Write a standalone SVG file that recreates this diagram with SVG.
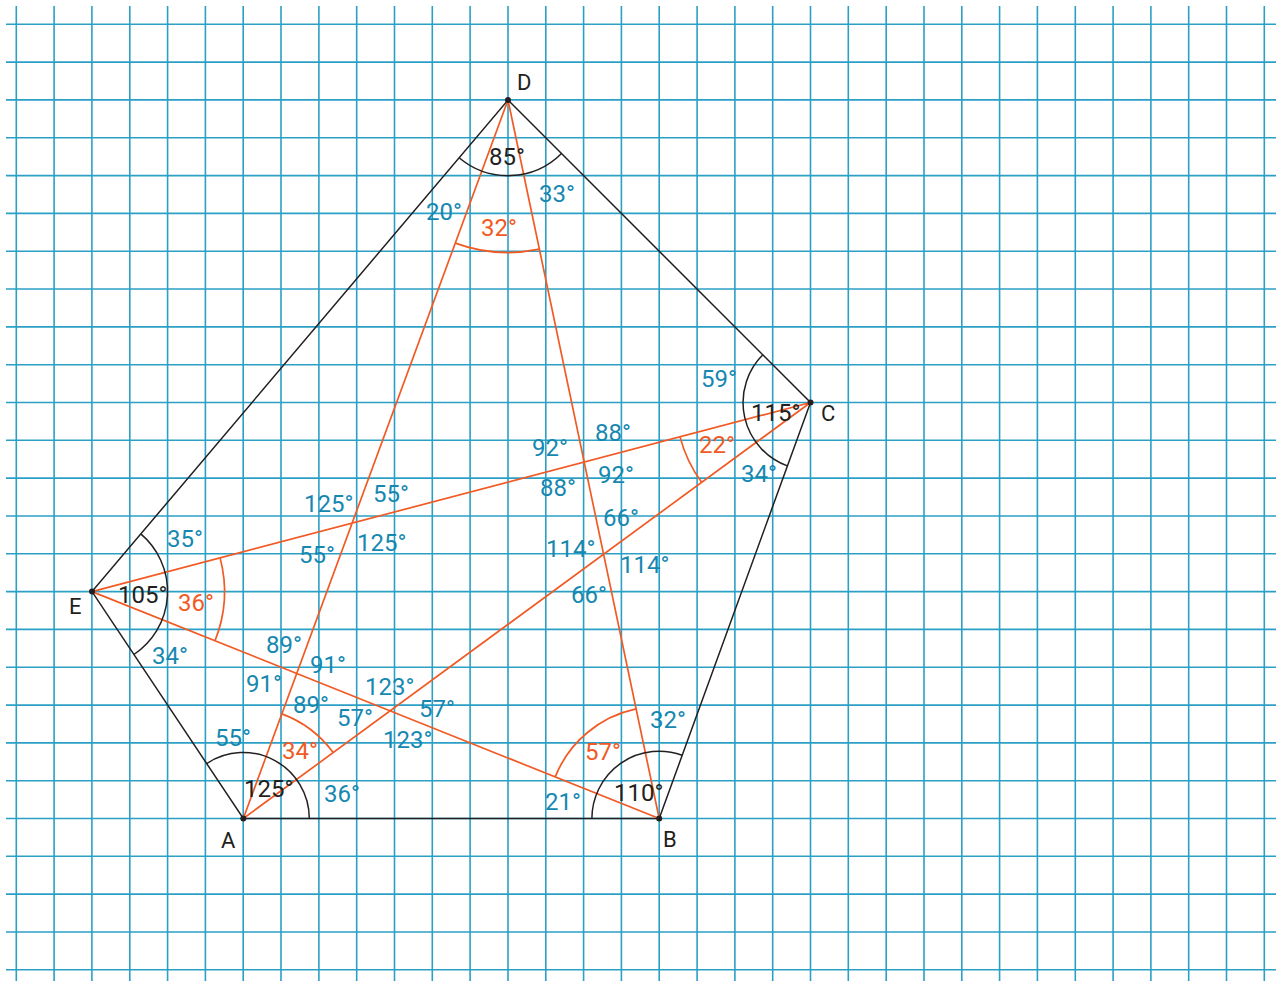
<svg xmlns="http://www.w3.org/2000/svg" width="1284" height="983" viewBox="0 0 1284 983">
<style>
.g{stroke:#2ba0c6;stroke-width:1.6;fill:none}
.k{stroke:#231f20;stroke-width:1.5;fill:none}
.o{stroke:#f15a24;stroke-width:1.7;fill:none}
text{font-family:Roboto,"Liberation Sans",sans-serif;font-size:24px}
.tb{fill:#1688b0}
.to{fill:#f15a24}
.tk{fill:#231f20}
.pt{fill:#231f20;font-size:22px}
</style>
<rect width="1284" height="983" fill="#fff"/>
<g id="grid">
<path class="g" d="M16.3 6V981M54.1 6V981M91.9 6V981M129.8 6V981M167.6 6V981M205.4 6V981M243.2 6V981M281 6V981M318.9 6V981M356.7 6V981M394.5 6V981M432.3 6V981M470.1 6V981M508 6V981M545.8 6V981M583.6 6V981M621.4 6V981M659.2 6V981M697.1 6V981M734.9 6V981M772.7 6V981M810.5 6V981M848.3 6V981M886.2 6V981M924 6V981M961.8 6V981M999.6 6V981M1037.4 6V981M1075.3 6V981M1113.1 6V981M1150.9 6V981M1188.7 6V981M1226.5 6V981M1264.3 6V981"/>
<path class="g" d="M6 24.3H1276M6 62.1H1276M6 99.9H1276M6 137.8H1276M6 175.6H1276M6 213.4H1276M6 251.2H1276M6 289H1276M6 326.9H1276M6 364.7H1276M6 402.5H1276M6 440.3H1276M6 478.1H1276M6 516H1276M6 553.8H1276M6 591.6H1276M6 629.4H1276M6 667.2H1276M6 705.1H1276M6 742.9H1276M6 780.7H1276M6 818.5H1276M6 856.3H1276M6 894.1H1276M6 932H1276M6 969.8H1276"/>
</g>
<g id="connectors">
<path class="k" d="M243.3 818.5L659.2 818.5L810.5 402.5L508 100L92 591.6Z"/>
<path class="o" d="M243.3 818.5L810.5 402.5M243.3 818.5L508 100M659.2 818.5L508 100M659.2 818.5L92 591.6M810.5 402.5L92 591.6"/>
</g>
<g id="arcs">
<path class="k" d="M206.7 763.6A66 66 0 0 1 309.3 818.5"/>
<path class="o" d="M281.8 713.9A111.5 111.5 0 0 1 333.2 752.6"/>
<path class="k" d="M591.9 818.5A67.3 67.3 0 0 1 682.2 755.3"/>
<path class="o" d="M555.2 776.9A112 112 0 0 1 636.1 708.9"/>
<path class="k" d="M787.4 465.9A67.5 67.5 0 0 1 762.8 354.8"/>
<path class="o" d="M701.6 482.3A135 135 0 0 1 680 436.9"/>
<path class="k" d="M561.5 153.5A75.7 75.7 0 0 1 459.1 157.8"/>
<path class="o" d="M539.4 249.2A152.5 152.5 0 0 1 455.3 243.1"/>
<path class="k" d="M140.8 533.9A75.6 75.6 0 0 1 133.9 654.5"/>
<path class="o" d="M220.1 557.9A132.5 132.5 0 0 1 215 640.8"/>
</g>
<g id="A"><circle cx="243.3" cy="818.5" r="3" fill="#231f20"/><text class="pt" x="221" y="848">A</text></g>
<g id="B"><circle cx="659.2" cy="818.5" r="3" fill="#231f20"/><text class="pt" x="663" y="847">B</text></g>
<g id="C"><circle cx="810.5" cy="402.5" r="3" fill="#231f20"/><text class="pt" x="821" y="421">C</text></g>
<g id="D"><circle cx="508" cy="100" r="3" fill="#231f20"/><text class="pt" x="517" y="90">D</text></g>
<g id="E"><circle cx="92" cy="591.6" r="3" fill="#231f20"/><text class="pt" x="69" y="614">E</text></g>
<g id="labels">
<text class="tk" x="489" y="165">85°</text>
<text class="tk" x="751" y="421">115°</text>
<text class="tk" x="118" y="603">105°</text>
<text class="tk" x="244" y="797">125°</text>
<text class="tk" x="614" y="801">110°</text>
<text class="to" x="481" y="236">32°</text>
<text class="to" x="699" y="453">22°</text>
<text class="to" x="178" y="611">36°</text>
<text class="to" x="282" y="759">34°</text>
<text class="to" x="585" y="760">57°</text>
<text class="tb" x="426" y="220">20°</text>
<text class="tb" x="539" y="202">33°</text>
<text class="tb" x="701" y="387">59°</text>
<text class="tb" x="741" y="482">34°</text>
<text class="tb" x="167" y="547">35°</text>
<text class="tb" x="152" y="664">34°</text>
<text class="tb" x="215" y="746">55°</text>
<text class="tb" x="324" y="802">36°</text>
<text class="tb" x="650" y="728">32°</text>
<text class="tb" x="545" y="810">21°</text>
<text class="tb" x="304" y="512">125°</text>
<text class="tb" x="373" y="502">55°</text>
<text class="tb" x="357" y="551">125°</text>
<text class="tb" x="299" y="563">55°</text>
<text class="tb" x="532" y="456">92°</text>
<text class="tb" x="595" y="441">88°</text>
<text class="tb" x="598" y="483">92°</text>
<text class="tb" x="540" y="496">88°</text>
<text class="tb" x="603" y="526">66°</text>
<text class="tb" x="546" y="557">114°</text>
<text class="tb" x="620" y="573">114°</text>
<text class="tb" x="571" y="603">66°</text>
<text class="tb" x="266" y="653">89°</text>
<text class="tb" x="310" y="673">91°</text>
<text class="tb" x="246" y="692">91°</text>
<text class="tb" x="293" y="713">89°</text>
<text class="tb" x="365" y="695">123°</text>
<text class="tb" x="337" y="726">57°</text>
<text class="tb" x="419" y="717">57°</text>
<text class="tb" x="383" y="748">123°</text>
</g>
</svg>
